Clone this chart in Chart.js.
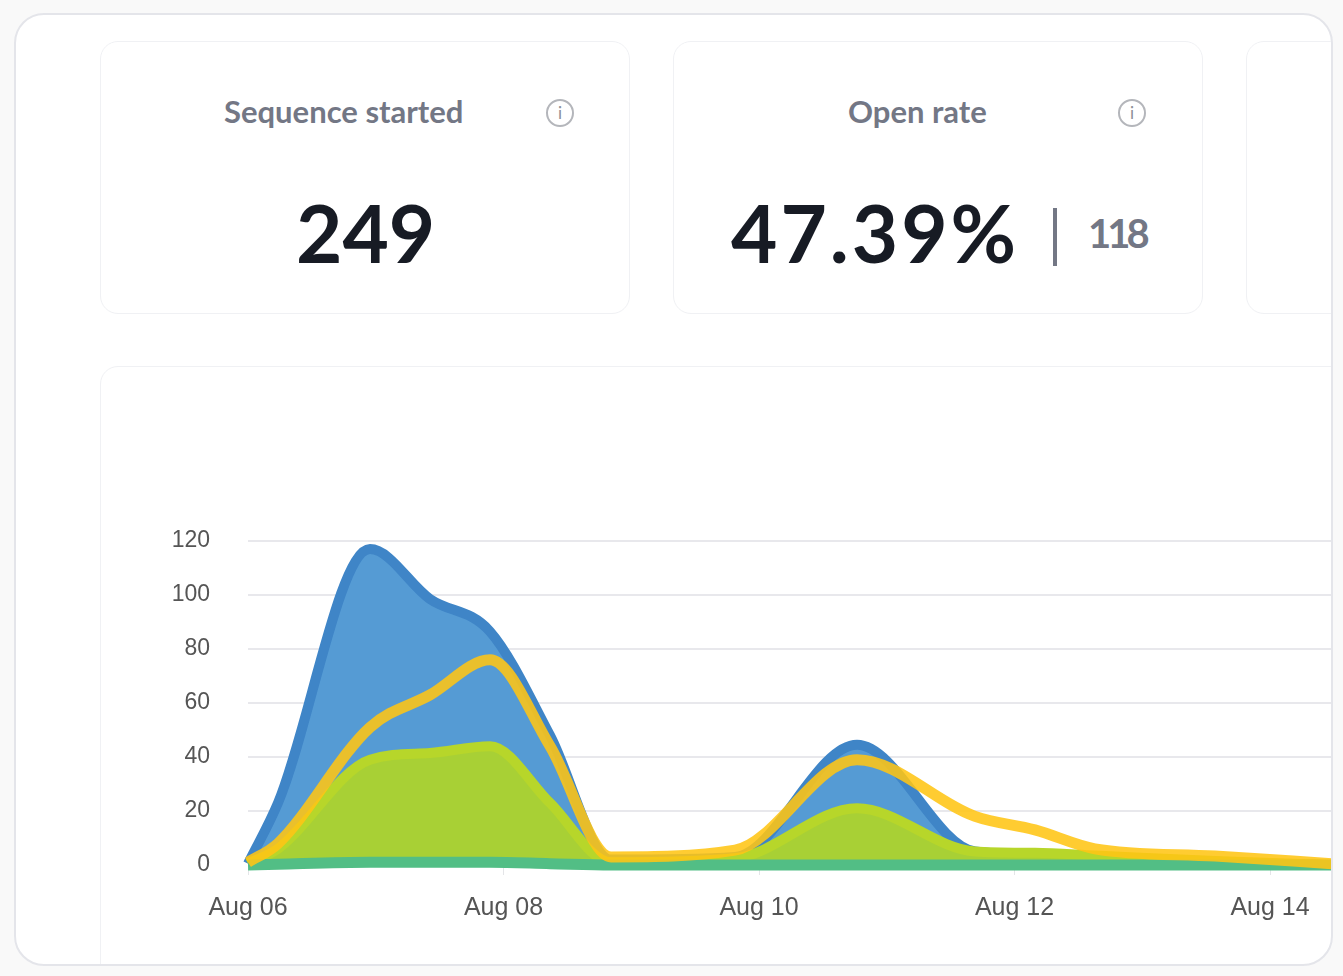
<!DOCTYPE html>
<html>
<head>
<meta charset="utf-8">
<title>Sequence stats</title>
<script src="https://cdn.jsdelivr.net/npm/chart.js@4/dist/chart.umd.min.js"></script>
<style>
  html, body { margin: 0; height: 100%; background: #f9f9f9; overflow: hidden; font-family: Lato, sans-serif; }
  .frame { position: absolute; left: 14px; top: 13px; width: 1319px; height: 953px; box-sizing: border-box; background: #fff; border: 2px solid #e4e5ea; border-radius: 30px; overflow: hidden; }
  .stat { position: absolute; top: 26px; width: 530px; height: 273px; box-sizing: border-box; border: 1px solid #f0f1f4; border-radius: 18px; }
  .label { position: absolute; top: 51px; font-size: 31px; line-height: 36px; font-weight: 700; color: #737785; white-space: nowrap; }
  .num { position: absolute; top: 140px; font-size: 80px; line-height: 100px; font-weight: 700; color: #171b24; white-space: nowrap; }
  .info { position: absolute; top: 57px; width: 28px; height: 28px; box-sizing: border-box; border: 2px solid #b4b6bb; border-radius: 50%; color: #8d9097; font: 400 17px/24px Lato, sans-serif; text-align: center; }
  .bar { position: absolute; top: 166px; left: 379px; width: 4px; height: 58px; background: #737785; }
  .sub { position: absolute; top: 161px; left: 414px; font-size: 40px; line-height: 60px; font-weight: 700; letter-spacing: -4px; color: #737785; }
  .chartCard { position: absolute; left: 84px; top: 351px; width: 1300px; height: 700px; box-sizing: border-box; border: 1px solid #f0f1f4; border-radius: 18px; }
  #chart { position: absolute; left: 0; top: 0; }
</style>
</head>
<body>
<div class="frame">
  <div class="stat" style="left:84px">
    <div class="label" style="left:123px">Sequence started</div>
    <div class="info" style="left:445px">i</div>
    <div class="num" style="left:195px">249</div>
  </div>
  <div class="stat" style="left:657px">
    <div class="label" style="left:174px">Open rate</div>
    <div class="info" style="left:444px">i</div>
    <div class="num" style="left:57px;letter-spacing:3px">47.39%</div>
    <div class="bar"></div>
    <div class="sub">118</div>
  </div>
  <div class="stat" style="left:1230px"></div>
  <div class="chartCard"><canvas id="chart"></canvas></div>
</div>
<script>
  // days since Aug 06
  const xDays = [0, 0.235, 0.955, 1.425, 1.894, 2.364, 2.842, 3.812, 4.767, 5.691, 6.16, 6.63, 7.569, 8.485];
  const xTickLabels = ['Aug 06', 'Aug 08', 'Aug 10', 'Aug 12', 'Aug 14'];
  const sent = [0.5, 23, 117, 98.5, 86.5, 48, 2, 3, 44.5, 5, 4, 3, 1, 0];
  const opened = [1, 8, 51, 63, 76, 44, 3, 5.5, 39, 18, 13, 6, 3.3, 0.5];
  const clicked = [0.5, 6, 39, 41.5, 44, 23, 1, 2.5, 21, 5, 4.5, 3.5, 1.5, 0];
  const replied = [0, 0.3, 1, 1, 1, 0.5, 0, 0, 0, 0, 0, 0, 0, 0];

  const points = values => values.map((v, i) => ({ x: xDays[i], y: v }));

  function makeDataset(values, stroke, fill, order, width) {
    return {
      data: points(values),
      borderColor: stroke,
      backgroundColor: fill || 'transparent',
      fill: fill ? 'origin' : false,
      borderWidth: width,
      pointRadius: 0,
      cubicInterpolationMode: 'monotone',
      clip: false,
      order
    };
  }

  const canvas = document.getElementById('chart');
  canvas.width = 1231;
  canvas.height = 598;
  canvas.style.width = '1231px';
  canvas.style.height = '598px';

  new Chart(canvas, {
    type: 'line',
    data: {
      datasets: [
        makeDataset(sent, 'rgba(63,133,199,1)', 'rgba(80,152,211,0.97)', 4, 10),
        makeDataset(clicked, 'rgba(183,214,42,1)', 'rgba(168,208,53,1)', 3, 10),
        makeDataset(replied, 'rgba(82,190,133,1)', null, 2, 11),
        makeDataset(opened, 'rgba(255,197,20,0.88)', null, 1, 11)
      ]
    },
    options: {
      responsive: false,
      animation: false,
      layout: { padding: { top: 174, right: 0, bottom: 0, left: 0 }, autoPadding: false },
      plugins: { legend: { display: false }, tooltip: { enabled: false } },
      scales: {
        x: {
          type: 'linear',
          min: 0,
          max: 8.485,
          afterFit: s => { s.height = 100; },
          grid: { drawOnChartArea: false, drawTicks: true, tickLength: 10, tickColor: '#e4e5e8', lineWidth: 1 },
          border: { display: false },
          ticks: {
            stepSize: 2,
            includeBounds: false,
            autoSkip: false,
            maxRotation: 0,
            padding: 18,
            color: '#555',
            font: { family: 'Liberation Sans', size: 25 },
            callback: v => xTickLabels[v / 2]
          }
        },
        y: {
          min: 0,
          max: 120,
          afterFit: s => { s.width = 147; },
          grid: { color: '#e8e8ec', lineWidth: 2, drawTicks: false },
          border: { display: false },
          ticks: {
            stepSize: 20,
            padding: 38,
            color: '#555',
            font: { family: 'Liberation Sans', size: 23 }
          }
        }
      }
    }
  });
</script>
</body>
</html>
